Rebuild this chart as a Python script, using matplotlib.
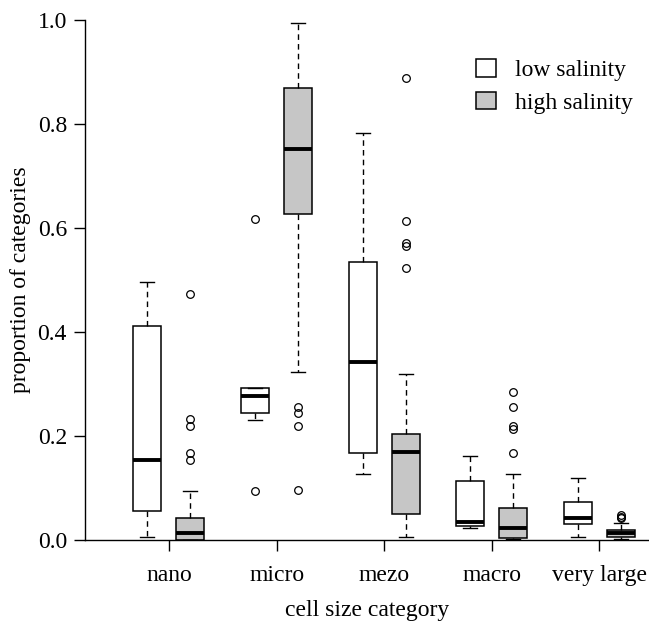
import matplotlib
matplotlib.use("Agg")
import matplotlib.pyplot as plt
from matplotlib.patches import Patch

plt.rcParams['font.family'] = ['Liberation Serif', 'DejaVu Serif']

categories = ["nano", "micro", "mezo", "macro", "very large"]
groups = ["low salinity", "high salinity"]
y_ticks = [0.0, 0.2, 0.4, 0.6, 0.8, 1.0]

# per category: whisker low, q1, median, q3, whisker high
low_whislo = [0.006, 0.231, 0.127, 0.023, 0.006]
low_q1     = [0.056, 0.244, 0.167, 0.027, 0.031]
low_med    = [0.154, 0.277, 0.342, 0.035, 0.043]
low_q3     = [0.412, 0.292, 0.535, 0.114, 0.073]
low_whishi = [0.496, 0.292, 0.783, 0.161, 0.119]
low_fliers = [[], [0.617, 0.094], [], [], []]

high_whislo = [0.000, 0.323, 0.006, 0.002, 0.002]
high_q1     = [0.000, 0.627, 0.050, 0.004, 0.006]
high_med    = [0.013, 0.752, 0.169, 0.023, 0.013]
high_q3     = [0.043, 0.869, 0.204, 0.061, 0.019]
high_whishi = [0.094, 0.995, 0.319, 0.127, 0.033]
high_fliers = [[0.473, 0.233, 0.219, 0.168, 0.153],
               [0.256, 0.244, 0.219, 0.096],
               [0.888, 0.613, 0.571, 0.565, 0.523],
               [0.285, 0.255, 0.220, 0.214, 0.168],
               [0.048, 0.045, 0.043]]

low_color = "white"
high_color = "#c6c6c6"

def make_stats(wl, q1, md, q3, wh, fl):
    return [dict(whislo=a, q1=b, med=c, q3=d, whishi=e, fliers=f)
            for a, b, c, d, e, f in zip(wl, q1, md, q3, wh, fl)]

fig = plt.figure(figsize=(6.49, 6.23), dpi=100)
ax = fig.add_axes([85/649, 83/623, 1 - 85/649, 520/623])

pos = list(range(1, len(categories) + 1))
offset = 0.2
width = 0.26
fs = 17

common = dict(
    widths=width, patch_artist=True, capwidths=0.13,
    boxprops=dict(edgecolor="black", linewidth=1.1),
    medianprops=dict(color="black", linewidth=2.8, solid_capstyle="butt"),
    whiskerprops=dict(color="black", linewidth=1.0, linestyle=(0, (4, 3))),
    capprops=dict(color="black", linewidth=1.0),
    flierprops=dict(marker="o", markerfacecolor="none", markeredgecolor="black",
                    markersize=5.5, markeredgewidth=0.9, linestyle="none"),
)

b1 = ax.bxp(make_stats(low_whislo, low_q1, low_med, low_q3, low_whishi, low_fliers),
            positions=[p - offset for p in pos], **common)
b2 = ax.bxp(make_stats(high_whislo, high_q1, high_med, high_q3, high_whishi, high_fliers),
            positions=[p + offset for p in pos], **common)
for bx in b1["boxes"]:
    bx.set_facecolor(low_color)
for bx in b2["boxes"]:
    bx.set_facecolor(high_color)

ax.set_xlim(0.22, 5.46)
ax.set_ylim(0, 1.0)
ax.set_xticks(pos)
ax.set_xticklabels(categories)
ax.set_yticks(y_ticks)
ax.set_yticklabels([f"{v:.1f}" for v in y_ticks])
for s in ["top", "right"]:
    ax.spines[s].set_visible(False)
for s in ["left", "bottom"]:
    ax.spines[s].set_linewidth(1.0)
ax.tick_params(axis="both", labelsize=fs, length=8, width=1.0)
ax.tick_params(axis="x", pad=10)
ax.tick_params(axis="y", pad=5)
ax.set_xlabel("cell size category", fontsize=fs, labelpad=10)
ax.set_ylabel("proportion of categories", fontsize=fs)
ax.yaxis.set_label_coords(-0.095, 0.5)

handles = [Patch(facecolor=low_color, edgecolor="black", linewidth=1.1),
           Patch(facecolor=high_color, edgecolor="black", linewidth=1.1)]
ax.legend(handles, groups, loc="upper left", bbox_to_anchor=(455/649, 1 - 38/623),
          bbox_transform=fig.transFigure, frameon=False, fontsize=fs,
          handlelength=0.85, handleheight=0.75, handletextpad=0.8, labelspacing=0.45)

fig.savefig("out.png", dpi=100)
